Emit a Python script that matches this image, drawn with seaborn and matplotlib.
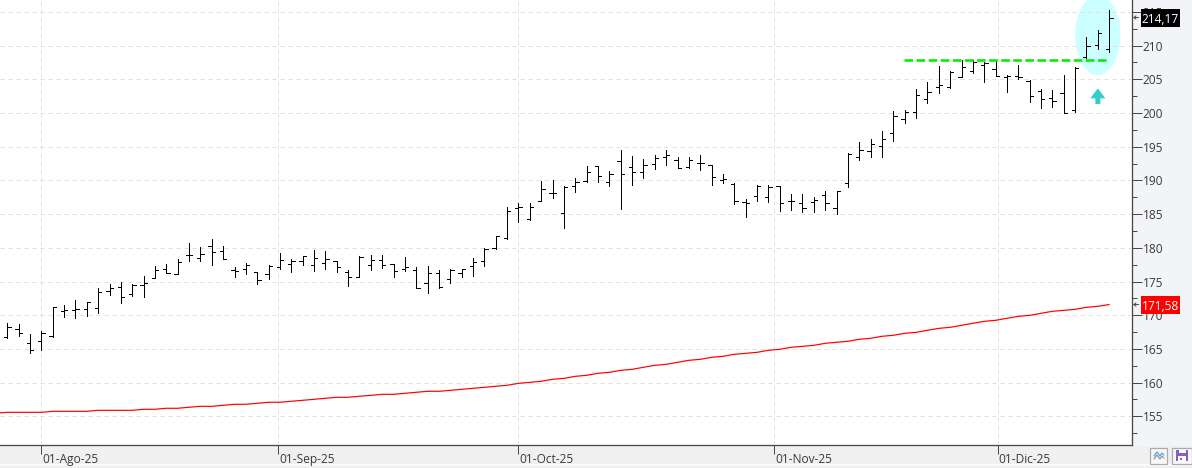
import matplotlib
matplotlib.use("Agg")
import matplotlib.pyplot as plt
import matplotlib.patches as mpatches
import matplotlib.transforms as mtrans
from matplotlib.ticker import MultipleLocator, FixedLocator, FixedFormatter, FuncFormatter
import numpy as np
import pandas as pd
import seaborn as sns

# Daily price bars, August to December 2025
opens = [166.72, 167.90, 165.82, 166.17, 166.91, 170.62, 170.77, 170.87, 171.02, 173.59,
         174.13, 173.09, 174.48, 175.47, 176.85, 176.06, 178.93, 178.54, 180.27, 179.52,
         176.70, 176.80, 176.36, 176.06, 177.10, 177.60, 178.00, 177.50, 177.70, 178.05,
         176.46, 175.72, 177.40, 178.19, 177.60, 176.81, 176.66, 174.73, 176.22, 175.42,
         176.22, 177.25, 178.09, 180.02, 181.40, 185.85, 184.32, 186.99, 188.18, 185.11,
         189.16, 189.96, 192.13, 189.71, 192.82, 191.93, 191.19, 192.43, 193.52, 193.02,
         192.03, 192.63, 192.28, 190.05, 189.41, 186.79, 187.63, 187.48, 189.12, 186.99,
         186.59, 186.79, 187.83, 185.95, 189.57, 193.43, 194.32, 195.11, 196.99, 199.11,
         200.10, 202.03, 203.91, 203.81, 205.29, 206.28, 207.12, 206.48, 205.30, 205.49,
         204.80, 203.27, 202.18, 202.92, 200.45, 208.26, 210.04, 209.45]
highs = [168.79, 168.64, 167.21, 167.65, 171.17, 171.51, 172.25, 171.96, 173.98, 174.58,
         174.87, 174.58, 175.81, 177.30, 177.60, 178.29, 180.66, 180.07, 181.26, 180.32,
         177.20, 177.69, 176.36, 177.40, 179.18, 178.29, 178.79, 179.68, 179.53, 178.09,
         176.71, 178.84, 178.89, 178.98, 177.65, 178.64, 177.11, 177.30, 176.66, 176.86,
         176.91, 178.44, 179.92, 181.80, 186.10, 186.59, 186.59, 189.86, 190.05, 189.16,
         190.35, 192.08, 192.13, 191.34, 194.51, 193.62, 193.17, 193.76, 194.51, 193.52,
         193.42, 193.76, 192.33, 190.90, 189.56, 187.19, 189.36, 189.36, 189.12, 187.93,
         187.93, 187.58, 188.42, 188.42, 194.02, 195.70, 196.14, 197.33, 200.30, 200.45,
         203.56, 204.55, 206.98, 206.18, 207.87, 207.87, 207.62, 207.72, 205.59, 207.08,
         204.85, 203.52, 203.42, 205.59, 206.78, 211.23, 212.27, 215.29]
lows = [166.57, 166.91, 164.34, 164.83, 166.71, 169.68, 169.63, 169.93, 170.37, 173.04,
        171.86, 172.85, 172.75, 175.47, 176.21, 176.06, 178.09, 178.09, 177.50, 178.29,
        175.72, 176.11, 174.68, 175.42, 176.90, 176.46, 177.50, 176.61, 176.81, 176.41,
        174.34, 175.62, 176.71, 176.96, 175.72, 176.56, 173.99, 173.35, 174.09, 174.83,
        175.72, 175.82, 177.30, 179.88, 181.25, 183.87, 184.07, 186.89, 187.43, 182.98,
        188.32, 189.81, 189.81, 189.16, 185.75, 189.36, 190.40, 191.69, 192.33, 191.79,
        191.89, 191.59, 189.36, 189.56, 186.54, 184.61, 186.99, 186.84, 185.46, 185.65,
        185.36, 185.36, 185.65, 185.06, 189.07, 193.08, 193.52, 193.52, 195.90, 198.57,
        199.26, 201.54, 203.02, 203.76, 205.29, 205.99, 204.65, 205.49, 203.17, 205.00,
        201.69, 200.80, 200.94, 199.95, 200.20, 208.12, 209.55, 209.01]
closes = [168.20, 167.31, 164.83, 167.31, 171.17, 170.72, 170.87, 171.96, 173.39, 173.98,
          172.75, 174.48, 174.73, 176.70, 176.31, 177.89, 178.93, 179.08, 179.33, 178.39,
          176.51, 177.45, 175.22, 177.35, 178.19, 178.04, 178.74, 178.44, 178.29, 177.11,
          175.72, 178.69, 178.14, 177.50, 176.51, 177.20, 174.09, 176.22, 174.24, 176.71,
          176.81, 177.85, 179.78, 181.71, 185.41, 186.10, 186.00, 188.67, 188.18, 189.02,
          189.71, 191.19, 190.70, 190.90, 190.90, 191.19, 192.28, 193.27, 193.72, 191.89,
          193.02, 192.58, 190.45, 190.20, 186.99, 186.69, 189.16, 189.02, 186.64, 186.94,
          185.95, 187.04, 186.64, 188.37, 193.87, 194.46, 195.35, 196.09, 199.61, 200.10,
          202.67, 203.07, 204.11, 206.04, 206.78, 207.52, 207.37, 205.49, 205.49, 205.30,
          202.48, 202.03, 201.74, 200.05, 206.63, 209.99, 211.82, 214.17]

# Long moving average, one value per session
moving_avg = [155.59, 155.59, 155.59, 155.59, 155.74, 155.74, 155.74, 155.74, 155.89, 155.89,
              155.89, 155.89, 156.04, 156.04, 156.19, 156.19, 156.34, 156.48, 156.48, 156.63,
              156.78, 156.78, 156.93, 157.08, 157.08, 157.23, 157.37, 157.52, 157.67, 157.82,
              157.82, 157.97, 158.11, 158.26, 158.26, 158.41, 158.56, 158.71, 158.71, 158.85,
              159.00, 159.15, 159.30, 159.45, 159.60, 159.89, 160.04, 160.19, 160.49, 160.63,
              160.93, 161.08, 161.38, 161.52, 161.82, 161.97, 162.27, 162.56, 162.71, 163.01,
              163.31, 163.45, 163.75, 163.90, 164.20, 164.34, 164.49, 164.79, 164.94, 165.24,
              165.38, 165.53, 165.83, 165.98, 166.13, 166.42, 166.57, 166.87, 167.02, 167.31,
              167.46, 167.76, 168.05, 168.20, 168.50, 168.80, 169.09, 169.24, 169.54, 169.83,
              169.98, 170.28, 170.58, 170.72, 170.87, 171.17, 171.32, 171.58]
avg_before_first = 155.45

month_ticks = [3.0, 23.83, 45.0, 67.5, 87.17]
month_labels = ["01-Ago-25", "01-Sep-25", "01-Oct-25", "01-Nov-25", "01-Dic-25"]
resistance = 207.82
last_close = 214.17
last_avg = 171.58

W, H = 1192, 468
PX = 72 / 100
FONT = "Open Sans"
TEXT = "#3a3a3a"
AXIS = "#484848"

sns.set_theme(style="white")
plt.rcParams["font.family"] = [FONT, "DejaVu Sans"]
plt.rcParams["font.size"] = 8.4

fig = plt.figure(figsize=(W / 100, H / 100), dpi=100, facecolor="#F3F4F7")

# Window furniture behind the chart, laid out in pixel units
panel = fig.add_axes([0, 0, 1, 1], zorder=-1)
panel.set_xlim(0, W)
panel.set_ylim(H, 0)
panel.axis("off")
panel.add_patch(mpatches.Rectangle((0, 446), W, 22, fc="#F0F0F0", ec="none"))
panel.add_patch(mpatches.Rectangle((0, 464), W, 1.5, fc="#FAFAFA", ec="none"))

# Line-chart button
panel.add_patch(mpatches.Rectangle((1149.5, 447.5), 17, 16.5, fc="#F7F7F7", ec="#ABABAB", lw=0.9))
panel.plot([1154, 1157, 1160, 1162, 1164], [456, 452, 456, 453, 455], color="#5AA6D8", lw=0.9)
panel.plot([1154, 1157, 1160, 1162, 1164], [459, 455, 459, 456, 458], color="#8E9AA6", lw=0.9)

# Save button
panel.add_patch(mpatches.Rectangle((1171.5, 447.5), 20, 16.5, fc="#F7F7F7", ec="#ABABAB", lw=0.9))
panel.add_patch(mpatches.Rectangle((1176, 449.5), 12, 11.5, fc="#8A5FC4", ec="none"))
panel.add_patch(mpatches.Rectangle((1178.5, 449.5), 7, 3.5, fc="#FFFFFF", ec="none"))
panel.add_patch(mpatches.Rectangle((1178, 456), 8, 5, fc="#FFFFFF", ec="none"))
panel.add_patch(mpatches.Rectangle((1180, 458), 2, 1.5, fc="#8A5FC4", ec="none"))

ax = fig.add_axes([0, (H - 445) / H, 1131.7 / W, 445 / H], facecolor="white")

bars = pd.DataFrame({"session": np.arange(len(closes)), "open": opens, "high": highs,
                     "low": lows, "close": closes, "avg": moving_avg})

# Highlight around the final breakout sessions
ax.add_patch(mpatches.Ellipse((96.0, 211.57), 4.0, 11.87, fc="#CCFFFF", ec="none", zorder=1))

# Moving average
avg_line = pd.concat([pd.DataFrame({"session": [-1], "avg": [avg_before_first]}),
                      bars[["session", "avg"]]])
sns.lineplot(data=avg_line, x="session", y="avg", ax=ax, color="#FF0000", linewidth=1.2 * PX,
             estimator=None, sort=False, zorder=3)

# Open-high-low-close bars: stem, left tick for the open, right tick for the close
stem_px = 1.0 * PX
ax.vlines(bars["session"], bars["low"], bars["high"], color="black", linewidth=stem_px,
          antialiased=False, zorder=4)
ax.hlines(bars["open"], bars["session"] - 0.29, bars["session"], color="black",
          linewidth=stem_px, antialiased=False, zorder=4)
ax.hlines(bars["close"], bars["session"], bars["session"] + 0.29, color="black",
          linewidth=stem_px, antialiased=False, zorder=4)

# Resistance level and breakout arrow
ax.plot([78.93, 97.0], [resistance, resistance], color="#00F000", linewidth=2.6 * PX,
        linestyle=(0, (3.3, 1.35)), zorder=5, solid_capstyle="butt", dash_capstyle="butt")
ax.annotate("", xy=(96.0, 203.66), xytext=(96.0, 201.34),
            arrowprops=dict(width=5 * PX, headwidth=15 * PX, headlength=10 * PX, shrink=0,
                            facecolor="#33CCCC", edgecolor="none"), zorder=5)

# Axes limits follow the plotting window
ax.set_xlim(-0.643, 98.98)
ax.set_ylim(150.74, 216.77)
ax.set_xlabel("")
ax.set_ylabel("")

ax.yaxis.tick_right()
ax.yaxis.set_major_locator(MultipleLocator(5))
ax.yaxis.set_minor_locator(MultipleLocator(2.5))
ax.yaxis.set_major_formatter(FuncFormatter(lambda v, _: f"{v:.0f}"))
ax.xaxis.set_major_locator(FixedLocator(month_ticks))
ax.xaxis.set_major_formatter(FixedFormatter(month_labels))
ax.tick_params(axis="y", which="major", length=10 * PX, width=1 * PX, color=AXIS,
               labelcolor=TEXT, labelsize=8.6, pad=0.7, right=True, left=False)
ax.tick_params(axis="y", which="minor", length=5 * PX, width=1 * PX, color=AXIS,
               right=True, left=False)
ax.tick_params(axis="x", which="major", length=9 * PX, width=1 * PX, color=AXIS,
               labelcolor=TEXT, labelsize=8.6, pad=-0.6, bottom=True)

label_shift = mtrans.ScaledTranslation(1.2 / 100, 0, fig.dpi_scale_trans)
for label in ax.get_xticklabels():
    label.set_ha("left")
    label.set_transform(label.get_transform() + label_shift)

ax.grid(True, which="major", color="#E0E0E0", linewidth=1 * PX, linestyle=(0, (4, 4)), zorder=2)
ax.set_axisbelow(False)
for line in ax.get_xgridlines() + ax.get_ygridlines():
    line.set_zorder(2)

for side in ("left", "top"):
    ax.spines[side].set_visible(False)
for side in ("right", "bottom"):
    ax.spines[side].set_color(AXIS)
    ax.spines[side].set_linewidth(1.3 * PX)

# Last-value flags on the price axis
y_axis_trans = ax.get_yaxis_transform()
flag_x = 1141 / 1131.7
flag_width = 39 / 1131.7
flag_height = 18 / 6.74
for value, text, bg in [(last_close, "214,17", "#000000"), (last_avg, "171,58", "#FF0000")]:
    ax.annotate("", xy=(1.0, value), xycoords=y_axis_trans, xytext=(7 * PX, 0),
                textcoords="offset points",
                arrowprops=dict(arrowstyle="->,head_length=0.18,head_width=0.14", color=AXIS,
                                lw=0.7, shrinkA=0, shrinkB=1), annotation_clip=False, zorder=8)
    ax.add_patch(mpatches.Rectangle((flag_x, value - flag_height / 2), flag_width, flag_height,
                                    transform=y_axis_trans, fc=bg, ec="none", clip_on=False,
                                    zorder=8.5))
    ax.text(flag_x + flag_width / 2, value, text, transform=y_axis_trans, ha="center",
            va="center_baseline", color="white", fontsize=8.6, clip_on=False, zorder=9)

fig.savefig("out.png", dpi=100, facecolor=fig.get_facecolor())
